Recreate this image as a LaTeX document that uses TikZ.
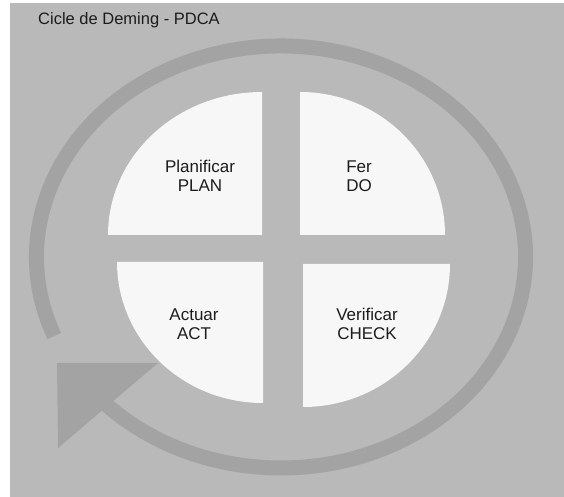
\documentclass[tikz,border=0pt]{standalone}
\usepackage{fontspec}
\setmainfont{Liberation Sans}
\newcommand{\qs}{\fontsize{17}{19}\selectfont}
\definecolor{bggray}{RGB}{185,185,185}
\definecolor{ringgray}{RGB}{163,163,163}
\definecolor{piecewhite}{RGB}{247,247,247}
\definecolor{txt}{RGB}{28,28,28}

\begin{document}
\begin{tikzpicture}[x=1pt,y=1pt,
   piece/.style={fill=piecewhite,draw=none},
   quadtext/.style={align=center,text=txt,inner sep=0pt,font=\qs}]
   \useasboundingbox (0,0) rectangle (564,497);
   \fill[white] (0,0) rectangle (564,497);
   \fill[bggray] (10,0) rectangle (564,494);
   % cycle ring and its head
   \coordinate (c) at (281,240);
   \draw[ringgray,line width=15pt] (c) ++(202:244.5 and 211)
      arc[start angle=202,end angle=-137,x radius=244.5,y radius=211];
   \coordinate (tip) at (57,134);
   \fill[ringgray] (tip) -- (158,134) -- (58,49) -- cycle;
   % the four quadrants
   \fill[piece] (262,262) -- ++(0,143) arc[start angle=90,end angle=180,x radius=154,y radius=143] -- cycle;
   \fill[piece] (300,262) -- ++(145,0) arc[start angle=0,end angle=90,x radius=145,y radius=143] -- cycle;
   \fill[piece] (263,235) -- ++(-146,0) arc[start angle=180,end angle=270,x radius=146,y radius=141] -- cycle;
   \fill[piece] (303,233) -- ++(0,-143) arc[start angle=270,end angle=360,x radius=147,y radius=143] -- cycle;
   \node[quadtext] (plan)  at (200,321) {Planificar\\PLAN};
   \node[quadtext] (do)    at (359,321) {Fer\\DO};
   \node[quadtext] (act)   at (194,173) {Actuar\\ACT};
   \node[quadtext] (check) at (367,173) {Verificar\\CHECK};
   \node[anchor=base west,inner sep=0pt,text=txt] (title) at (38,472) {\fontsize{16.5}{19}\selectfont Cicle de Deming - PDCA};
\end{tikzpicture}
\end{document}
